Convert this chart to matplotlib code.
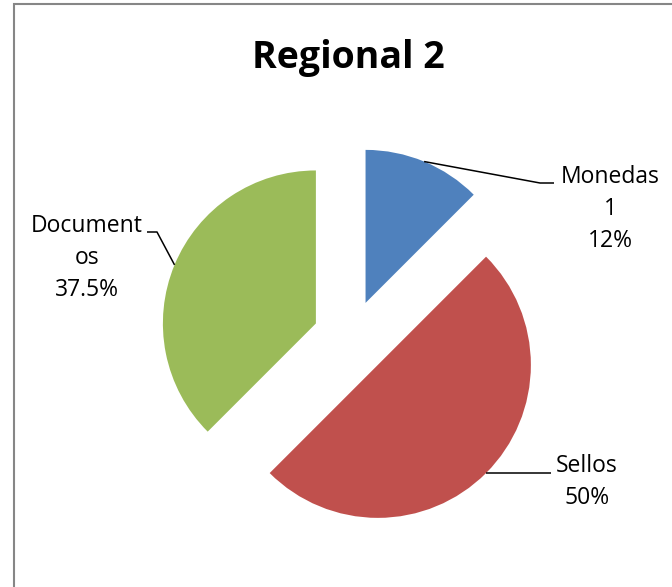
import matplotlib
matplotlib.use("Agg")
import matplotlib.pyplot as plt
import numpy as np
from matplotlib.patches import Rectangle

# Data
categories = ["Monedas", "Sellos", "Documentos"]
counts = [1, 4, 3]
label_texts = ["Monedas\n1\n12%", "Sellos\n50%", "Document\nos\n37.5%"]
colors = ["#4F81BD", "#C0504D", "#9BBB59"]
title = "Regional 2"

W, H = 672, 587
FONT = "Open Sans"

fig = plt.figure(figsize=(W / 100, H / 100), dpi=100)
ax = fig.add_axes([0, 0, 1, 1])


def py(y):
    # convert a top-down pixel row into the upward y axis
    return H - y


center = (351, py(338))
radius = 153
explode_dist = 38  # pie explode offsets are in data units

wedges, _ = ax.pie(counts, colors=colors, startangle=90, counterclock=False,
                   explode=[explode_dist] * len(counts), radius=radius,
                   center=center, frame=True,
                   wedgeprops=dict(linewidth=0))
ax.set_xlim(0, W)
ax.set_ylim(0, H)
ax.set_aspect("equal")
ax.axis("off")

# chart area frame
ax.add_patch(Rectangle((14, py(4) - 800), 800, 800, fill=False,
                       edgecolor="#868686", linewidth=1.5, zorder=0))

# label blocks: text centre, elbow point, line end (pixel rows top-down)
label_pos = [(610, 209), (587, 482), (87, 258)]
elbows = [(540, 183), None, (157, 232)]
line_ends = [(554, 183), (551, 473), (147, 232)]

for w, txt, tp, el, le in zip(wedges, label_texts, label_pos, elbows, line_ends):
    mid = np.deg2rad((w.theta1 + w.theta2) / 2)
    cx, cy = w.center
    sx, sy = cx + w.r * np.cos(mid), cy + w.r * np.sin(mid)
    xs, ys = [sx], [sy]
    if el is not None:
        xs.append(el[0]); ys.append(py(el[1]))
    else:
        ys[0] = py(le[1])
    xs.append(le[0]); ys.append(py(le[1]))
    ax.plot(xs, ys, color="black", linewidth=1.1, solid_capstyle="butt", zorder=3)
    ax.text(tp[0], py(tp[1]), txt, ha="center", va="center", fontsize=16.5,
            family=FONT, linespacing=1.45, color="black")

ax.text(348, py(58), title, ha="center", va="center", fontsize=27,
        fontweight="bold", family=FONT, color="black")

fig.savefig("out.png", dpi=100)
